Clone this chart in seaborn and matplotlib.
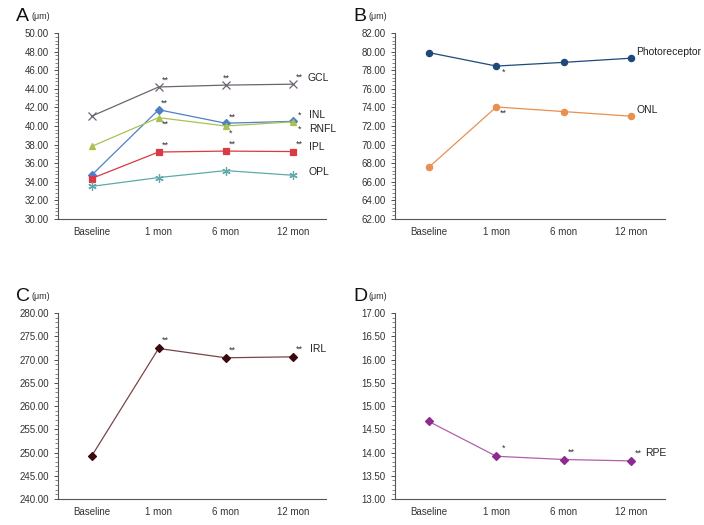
import pandas as pd
import matplotlib.pyplot as plt
import seaborn as sns
from matplotlib.ticker import AutoMinorLocator, FormatStrFormatter

# ---- data ----
times = ['Baseline', '1 mon', '6 mon', '12 mon']

gcl = [41.05, 44.2, 44.4, 44.5]
inl = [34.7, 41.75, 40.3, 40.5]
rnfl = [37.8, 40.9, 40.0, 40.45]
ipl = [34.35, 37.2, 37.3, 37.25]
opl = [33.5, 34.45, 35.2, 34.7]

photoreceptor = [79.9, 78.45, 78.85, 79.3]
onl = [67.55, 74.05, 73.55, 73.05]

irl = [249.2, 272.4, 270.4, 270.6]
rpe = [14.67, 13.92, 13.85, 13.82]

# significance marks per layer (index -> text)
stars = {
    'GCL': {1: '**', 2: '**', 3: '**'},
    'INL': {1: '**', 2: '**', 3: '*'},
    'RNFL': {1: '**', 2: '*', 3: '*'},
    'IPL': {1: '**', 2: '**', 3: '**'},
    'OPL': {},
    'Photoreceptor': {1: '*'},
    'ONL': {1: '**'},
    'IRL': {1: '**', 2: '**', 3: '**'},
    'RPE': {1: '*', 2: '**', 3: '**'},
}

colors = {
    'GCL': '#6e6370', 'INL': '#4f80c4', 'RNFL': '#a9c24f', 'IPL': '#d93a44',
    'OPL': '#5fa9ab', 'Photoreceptor': '#1e4a7a', 'ONL': '#e8904e',
    'IRL': '#3a0a0e', 'RPE': '#8e2a90',
}
markers = {
    'GCL': 'x', 'INL': 'D', 'RNFL': '^', 'IPL': 's', 'OPL': (6, 2, 0),
    'Photoreceptor': 'o', 'ONL': 'o', 'IRL': 'D', 'RPE': 'D',
}
marker_sizes = {
    'GCL': 5.5, 'INL': 3.8, 'RNFL': 5, 'IPL': 4.8, 'OPL': 6,
    'Photoreceptor': 4.5, 'ONL': 4.5, 'IRL': 4.2, 'RPE': 4.2,
}
line_colors = {'IRL': '#7a4548', 'RPE': '#b060b0'}

sns.set_style('ticks')
plt.rcParams['font.family'] = ['Liberation Sans', 'DejaVu Sans']

fig = plt.figure(figsize=(7.04, 5.25), dpi=100)

axA = fig.add_axes([0.0824, 0.583, 0.381, 0.354])
axB = fig.add_axes([0.561, 0.583, 0.384, 0.354])
axC = fig.add_axes([0.0824, 0.0495, 0.381, 0.354])
axD = fig.add_axes([0.561, 0.0495, 0.384, 0.354])

# star offsets in pixels (x right, y up) from the marker
star_offsets = {
    'GCL': {1: (3, 7), 2: (-3, 7), 3: (3, 7)},
    'INL': {1: (2, 7), 2: (3, 6), 3: (5, 6)},
    'RNFL': {1: (3, -7), 2: (3, -7), 3: (5, -7)},
    'IPL': {1: (3, 7), 2: (3, 7), 3: (3, 7)},
    'Photoreceptor': {1: (6, -6)},
    'ONL': {1: (4, -6)},
    'IRL': {1: (3, 8), 2: (3, 8), 3: (3, 8)},
    'RPE': {1: (6, 8), 2: (4, 7), 3: (3, 8)},
}

# label offsets in pixels (x right, y up) from the last marker
label_offsets = {
    'GCL': (15, 6), 'INL': (16, 6), 'RNFL': (16, -7), 'IPL': (16, 5),
    'OPL': (16, 3), 'Photoreceptor': (5, 6), 'ONL': (5, 6), 'IRL': (17, 8),
    'RPE': (14, 8),
}


def draw(ax, series, ylim, step, letter):
    rows = []
    for name, vals in series.items():
        for t, v in zip(times, vals):
            rows.append({'time': t, 'value': v, 'layer': name})
    df = pd.DataFrame(rows)
    for name, vals in series.items():
        sub = df[df['layer'] == name]
        mk = markers[name]
        sns.lineplot(data=sub, x='time', y='value', ax=ax, sort=False,
                     color=line_colors.get(name, colors[name]), linewidth=0.9,
                     marker=mk, markersize=marker_sizes[name],
                     markerfacecolor=colors[name], markeredgecolor=colors[name],
                     markeredgewidth=0.9)
        for i, s in stars[name].items():
            ax.annotate(s, xy=(i, vals[i]), xytext=star_offsets[name][i],
                        textcoords='offset pixels', fontsize=6.5, color='#333333',
                        ha='left', va='center')
        ax.annotate(name, xy=(3, vals[3]), xytext=label_offsets[name],
                    textcoords='offset pixels', fontsize=7.5, color='#222222',
                    ha='left', va='center')
    ax.set_xlim(-0.5, 3.5)
    ax.set_ylim(*ylim)
    ax.set_yticks([ylim[0] + step * k for k in range(int(round((ylim[1] - ylim[0]) / step)) + 1)])
    ax.yaxis.set_major_formatter(FormatStrFormatter('%.2f'))
    ax.yaxis.set_minor_locator(AutoMinorLocator(5))
    ax.set_xlabel('')
    ax.set_ylabel('')
    ax.tick_params(axis='both', labelsize=7, colors='#333333', length=3, width=0.6)
    ax.tick_params(axis='y', which='minor', length=2, width=0.5, colors='#555555')
    ax.tick_params(axis='x', length=0, pad=6)
    for sp in ['top', 'right']:
        ax.spines[sp].set_visible(False)
    for sp in ['left', 'bottom']:
        ax.spines[sp].set_color('#555555')
        ax.spines[sp].set_linewidth(0.8)
    ax.text(-0.155, 1.09, letter, transform=ax.transAxes, fontsize=14,
            ha='left', va='center', color='#111111')
    ax.text(-0.098, 1.09, '(\u03bcm)', transform=ax.transAxes, fontsize=6.5,
            ha='left', va='center', color='#333333')


draw(axA, {'GCL': gcl, 'INL': inl, 'RNFL': rnfl, 'IPL': ipl, 'OPL': opl},
     (30, 50), 2, 'A')
draw(axB, {'Photoreceptor': photoreceptor, 'ONL': onl}, (62, 82), 2, 'B')
draw(axC, {'IRL': irl}, (240, 280), 5, 'C')
draw(axD, {'RPE': rpe}, (13, 17), 0.5, 'D')

plt.savefig('out.png', dpi=100)
plt.close()
